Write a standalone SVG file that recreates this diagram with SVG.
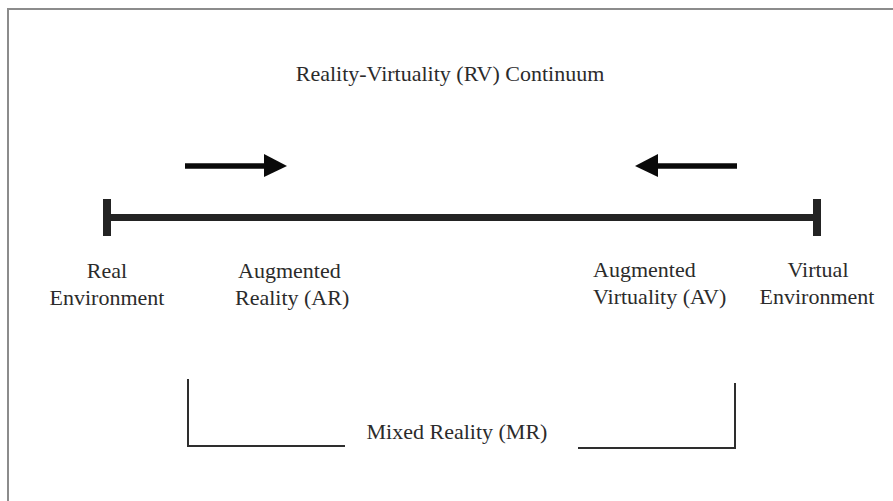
<svg xmlns="http://www.w3.org/2000/svg" width="893" height="501" viewBox="0 0 893 501">
  <style>
    text { font-family: "Liberation Serif", "Times New Roman", serif; font-size: 22px; fill: #2b2b2b; }
    .frame { fill: none; stroke: #8c8c8c; stroke-width: 2; }
    .axis { stroke: #232323; stroke-width: 7; fill: none; }
    .cap { fill: #232323; }
    .shaft { stroke: #0a0a0a; stroke-width: 5.5; fill: none; }
    .head { fill: #0a0a0a; }
    .bracket { stroke: #2e2e2e; stroke-width: 2; fill: none; }
  </style>

  <rect width="893" height="501" fill="#ffffff"/>
  <!-- outer frame: only top and left edges fall inside the canvas -->
  <path class="frame" d="M8,501 V9 H893"/>

  <g id="title">
    <text x="450" y="81" text-anchor="middle">Reality-Virtuality (RV) Continuum</text>
  </g>

  <g id="connectors">
    <!-- continuum axis with end stops -->
    <line class="axis" x1="107" y1="217.5" x2="817" y2="217.5"/>
    <rect class="cap" x="103" y="199" width="8" height="37"/>
    <rect class="cap" x="813" y="199" width="8" height="37"/>

    <!-- direction arrows -->
    <line class="shaft" x1="185" y1="166" x2="266" y2="166"/>
    <polygon class="head" points="264,154 287,166 264,177"/>
    <line class="shaft" x1="737" y1="166" x2="656" y2="166"/>
    <polygon class="head" points="658,154 635,166 658,177"/>

    <!-- mixed reality bracket -->
    <polyline class="bracket" points="188,379 188,446 345,446"/>
    <polyline class="bracket" points="578,448 735,448 735,383"/>
  </g>

  <g id="real-environment">
    <text x="107" y="278" text-anchor="middle">Real</text>
    <text x="107" y="305" text-anchor="middle">Environment</text>
  </g>

  <g id="augmented-reality">
    <text x="238" y="278">Augmented</text>
    <text x="235" y="305">Reality (AR)</text>
  </g>

  <g id="augmented-virtuality">
    <text x="593" y="277">Augmented</text>
    <text x="593" y="304">Virtuality (AV)</text>
  </g>

  <g id="virtual-environment">
    <text x="818" y="277" text-anchor="middle">Virtual</text>
    <text x="817" y="304" text-anchor="middle">Environment</text>
  </g>

  <g id="mixed-reality">
    <text x="457" y="439" text-anchor="middle">Mixed Reality (MR)</text>
  </g>
</svg>
